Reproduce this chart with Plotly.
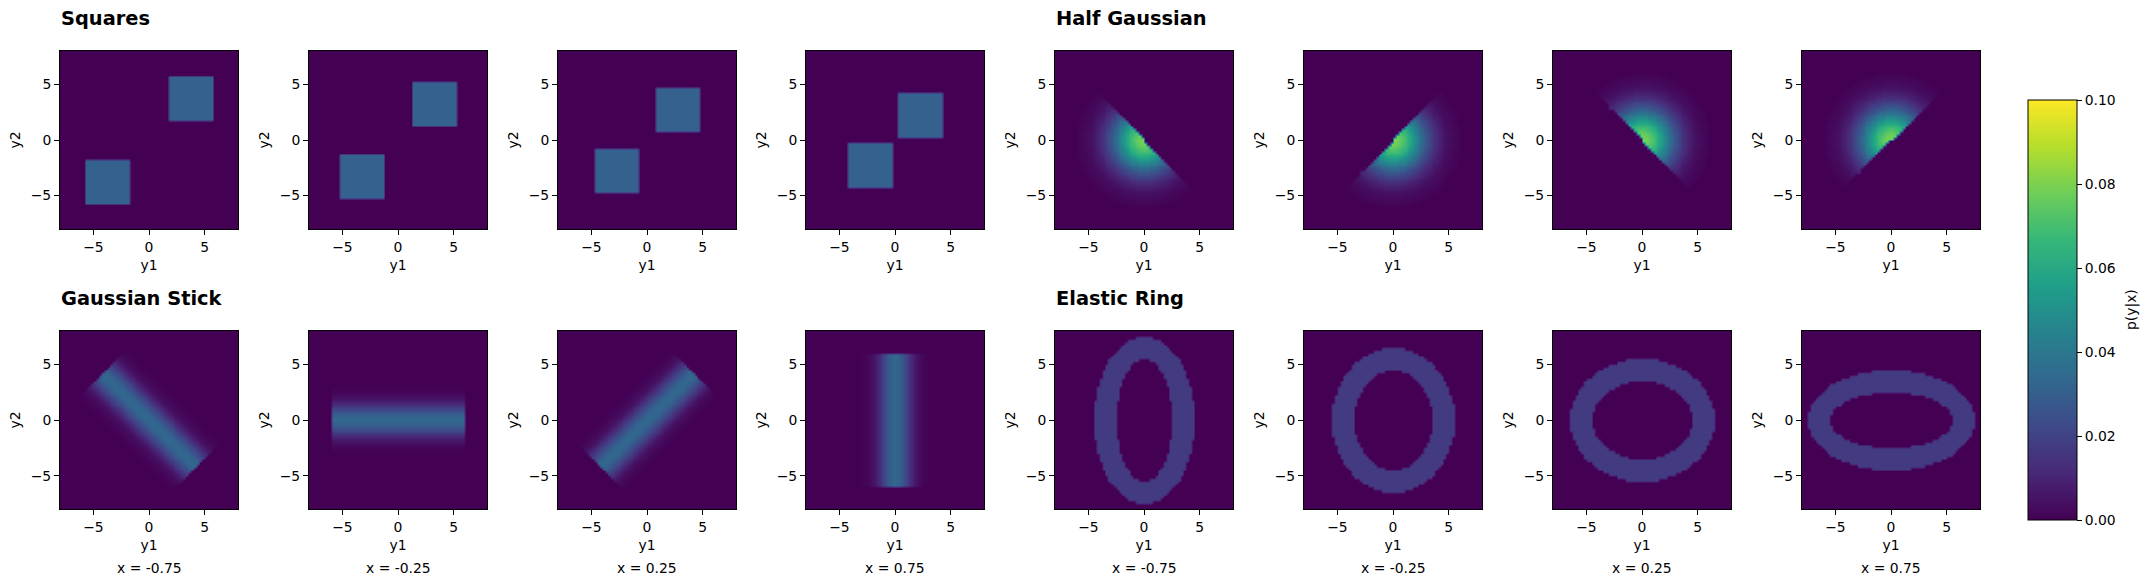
import numpy as np
import plotly.graph_objects as go

# Values. Each panel's cell grid is rasterised from these
# tables (box edges, ellipse semi-axes, binned density profiles), not typed cell by cell.
x_labels = ["x = -0.75", "x = -0.25", "x = 0.25", "x = 0.75"]
group_titles = ["Squares", "Half Gaussian", "Gaussian Stick", "Elastic Ring"]

square_low_box = [(-5.75, -1.75), (-5.25, -1.25), (-4.75, -0.75), (-4.25, -0.25)]
square_high_box = [(1.75, 5.75), (1.25, 5.25), (0.75, 4.75), (0.25, 4.25)]
square_level = 0.031

half_normal_deg = [225, -45, 45, 135]
half_profile = [.0796, .0795, .0791, .0782, .0772, .0758, .0741, .0723, .0702, .0680, .0655, .0628,
                .0603, .0572, .0546, .0513, .0483, .0453, .0423, .0393, .0364, .0336, .0309, .0284,
                .0259, .0235, .0212, .0192, .0172, .0154, .0137, .0122, .0108, .0095, .0084, .0073,
                .0063, .0055, .0048, .0041, .0035, .0030, .0025, .0022, .0018, .0015, .0013, .0011, .0009]

stick_angle_deg = [-45, 0, 45, 90]
stick_half_length = 6.0
stick_profile = [.0332, .0329, .0322, .0309, .0293, .0273, .0251, .0226, .0201, .0176, .0152, .0129,
                 .0108, .0089, .0072, .0057, .0045, .0035, .0026, .0020, .0015, .0011, .0008, .0005, .0004]

ring_outer = [(4.5, 7.5), (5.5, 6.5), (6.5, 5.5), (7.5, 4.5)]
ring_inner = [(2.5, 5.5), (3.5, 4.5), (4.5, 3.5), (5.5, 2.5)]
ring_level = 0.0175

profile_bin = 0.125
cells = 64
edges = np.linspace(-8, 8, cells + 1)
centers = (edges[:-1] + edges[1:]) / 2
Y1, Y2 = np.meshgrid(centers, centers)


def lookup(table, distance):
    idx = np.rint(np.abs(distance) / profile_bin).astype(int)
    table = np.append(np.array(table), 0.0)
    return table[np.minimum(idx, len(table) - 1)]


def squares(i):
    z = np.zeros_like(Y1)
    for lo, hi in (square_low_box[i], square_high_box[i]):
        z[(Y1 >= lo) & (Y1 <= hi) & (Y2 >= lo) & (Y2 <= hi)] = square_level
    return z


def half_gauss(i):
    a = np.deg2rad(half_normal_deg[i])
    side = Y1 * np.cos(a) + Y2 * np.sin(a)
    return np.where(side >= 0, lookup(half_profile, np.hypot(Y1, Y2)), 0.0)


def stick(i):
    a = np.deg2rad(stick_angle_deg[i])
    along = Y1 * np.cos(a) + Y2 * np.sin(a)
    across = -Y1 * np.sin(a) + Y2 * np.cos(a)
    return np.where(np.abs(along) <= stick_half_length, lookup(stick_profile, across), 0.0)


def ring(i):
    ox, oy = ring_outer[i]
    ix, iy = ring_inner[i]
    inside = (Y1 / ox) ** 2 + (Y2 / oy) ** 2 <= 1
    hole = (Y1 / ix) ** 2 + (Y2 / iy) ** 2 < 1
    return np.where(inside & ~hole, ring_level, 0.0)


W, H = 2146, 586
FONT = "DejaVu Sans"
TXT = "#000000"
FS = 13.9
panel_lefts = [60, 309, 558, 806, 1055, 1304, 1553, 1802]
panel_w = 178
row_tops = [51, 331]
panel_h = 178

groups = [(0, 0, squares), (0, 4, half_gauss), (1, 0, stick), (1, 4, ring)]
fig = go.Figure()
annotations = []
n = 0
for row, start, fn in groups:
    for i in range(4):
        n += 1
        left = panel_lefts[start + i]
        top = row_tops[row]
        xa, ya = f"xaxis{n}", f"yaxis{n}"
        fig.add_trace(go.Heatmap(x=centers, y=centers, z=fn(i), coloraxis="coloraxis",
                                 xaxis=f"x{n}", yaxis=f"y{n}", zsmooth="best"))
        common = dict(range=[-8, 8], tickvals=[-5, 0, 5], ticks="outside", ticklen=5, tickwidth=1,
                      tickcolor=TXT, showline=True, linecolor=TXT, linewidth=1, mirror=True,
                      showgrid=False, zeroline=False, automargin=False,
                      tickfont=dict(family=FONT, size=FS, color=TXT))
        fig.update_layout({
            xa: dict(domain=[left / W, (left + panel_w) / W], anchor=f"y{n}",
                     title=dict(text="y1", standoff=6, font=dict(family=FONT, size=FS, color=TXT)), **common),
            ya: dict(domain=[1 - (top + panel_h) / H, 1 - top / H], anchor=f"x{n}",
                     title=dict(text="y2", standoff=6, font=dict(family=FONT, size=FS, color=TXT)), **common),
        })
        if row == 1:
            annotations.append(dict(text=x_labels[i], x=(left + panel_w / 2) / W, y=1 - 568 / H,
                                    xref="paper", yref="paper", xanchor="center", yanchor="middle",
                                    showarrow=False, font=dict(family=FONT, size=FS, color=TXT)))

for (row, start, _), title in zip(groups, group_titles):
    annotations.append(dict(text=f"<b>{title}</b>", x=(panel_lefts[start] - 1) / W,
                            y=1 - (18 if row == 0 else 298) / H, xref="paper", yref="paper",
                            xanchor="left", yanchor="middle", showarrow=False,
                            font=dict(family=FONT, size=19.4, color=TXT)))

annotations.append(dict(text="p(y|x)", x=2131 / W, y=1 - 310 / H, xref="paper", yref="paper",
                        xanchor="center", yanchor="middle", textangle=-90, showarrow=False,
                        font=dict(family=FONT, size=FS, color=TXT)))

fig.update_layout(
    width=W, height=H, autosize=False, showlegend=False,
    margin=dict(l=0, r=0, t=0, b=0), paper_bgcolor="white", plot_bgcolor="#440154",
    annotations=annotations,
    coloraxis=dict(
        cmin=0, cmax=0.1, colorscale="Viridis",
        colorbar=dict(
            x=2028 / W, xanchor="left", xpad=0, y=1 - 100 / H, yanchor="top", ypad=0,
            len=420 / H, lenmode="fraction", thickness=49, thicknessmode="pixels",
            outlinewidth=1, outlinecolor=TXT,
            tickvals=[0, 0.02, 0.04, 0.06, 0.08, 0.1],
            ticktext=["0.00", "0.02", "0.04", "0.06", "0.08", "0.10"],
            ticks="outside", ticklen=5, tickwidth=1, tickcolor=TXT,
            tickfont=dict(family=FONT, size=FS, color=TXT),
        ),
    ),
)

fig.write_html("out.html", config={"displayModeBar": False},
               post_script="document.body.style.margin='0';document.documentElement.style.overflow='hidden';")
